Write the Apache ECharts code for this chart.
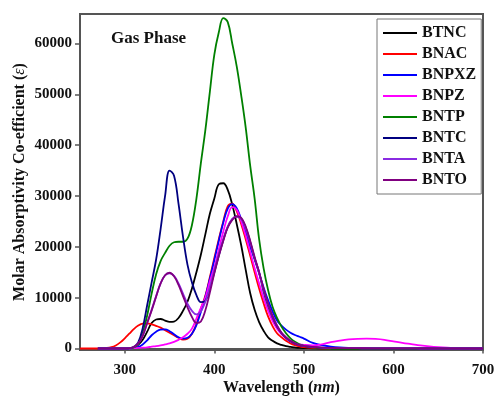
<!DOCTYPE html>
<html>
<head>
<meta charset="utf-8">
<script src="https://cdn.jsdelivr.net/npm/echarts@6/dist/echarts.min.js"></script>
<style>
  html, body { margin: 0; padding: 0; background: #fff; }
  #chart { width: 495px; height: 396px; }
</style>
</head>
<body>
<div id="chart"></div>
<script>
// wavelength grid (nm)
const wl = [
  250, 260, 270,
  280, 285, 290, 295,
  300, 305, 310, 315, 320, 325, 330, 335, 340, 345,
  350, 355, 360, 365, 370, 375, 380, 385, 390, 395,
  400, 405, 410, 415, 420, 425, 430, 435, 440, 445,
  450, 455, 460, 465, 470, 475, 480, 485, 490, 495,
  500, 510, 520, 530, 540, 550, 560, 570, 580, 590,
  600, 610, 620, 630, 640, 650, 660, 670, 680, 690, 700
];

const names = ["BTNC", "BNAC", "BNPXZ", "BNPZ", "BNTP", "BNTC", "BNTA", "BNTO"];
const colors = ["#000000", "#ff0000", "#0000ff", "#ff00ff", "#008000", "#000080", "#8a2be2", "#800080"];

const btnc = [
  null, null, 0,
  0, 0, 0, 0,
  0, 50, 200, 700, 1700, 3300, 5000, 5700, 5800, 5500,
  5250, 5300, 6000, 7400, 9200, 11800, 15000, 18500, 22500, 26500,
  29500, 32300, 32500, 31200, 28300, 24500, 20300, 15500, 10900, 7600,
  5200, 3500, 2200, 1500, 1000, 700, 450, 300, 200, 120,
  80, 30, 0, 0, 0, 0, 0, 0, 0, 0,
  0, 0, 0, 0, 0, 0, 0, 0, 0, 0, 0
];
const bnac = [
  0, 0, 0,
  100, 250, 600, 1200,
  2000, 2900, 3800, 4500, 4900, 4950, 4750, 4450, 4100, 3600,
  3100, 2600, 2100, 1750, 1900, 2900, 4800, 7800, 10400, 14000,
  17800, 21500, 25000, 28000, 28500, 27000, 24500, 21500, 18300, 15000,
  11800, 8900, 6300, 4400, 3000, 2200, 1500, 1000, 650, 400,
  250, 100, 30, 0, null, null, null, null, null, null,
  null, null, null, null, null, null, null, null, null, null, null
];
const bnpxz = [
  null, null, 0,
  0, 0, 0, 0,
  0, 30, 100, 300, 800, 1600, 2600, 3300, 3700, 3750,
  3400, 2800, 2200, 1950, 2100, 2900, 4600, 7200, 10200, 13700,
  17400, 21200, 24800, 27500, 28400, 27600, 25400, 22800, 20000, 17500,
  14800, 12000, 9500, 7300, 5500, 4500, 3700, 3100, 2650, 2300,
  1950, 1100, 650, 380, 200, 100, 50, null, null, null,
  null, null, null, null, null, null, null, null, null, null, null
];
const bnpz = [
  null, null, 0,
  0, 0, 0, 0,
  0, 20, 50, 100, 150, 220, 350, 450, 600, 800,
  1000, 1300, 1700, 2200, 2900, 3900, 5900, 8000, 10000, 13200,
  16000, 19500, 23000, 26000, 27800, 27300, 25000, 22200, 19000, 15800,
  12800, 9900, 7400, 5400, 3900, 2800, 2000, 1400, 1000, 800,
  700, 620, 800, 1250, 1550, 1780, 1900, 1930, 1870, 1700,
  1400, 1100, 850, 600, 400, 250, 150, 90, 50, 20, 0
];
const bntp = [
  null, null, 0,
  0, 0, 0, 0,
  0, 50, 200, 900, 3000, 6500, 10800, 14600, 17200, 18800,
  20200, 20900, 21000, 21000, 21600, 24300, 29500, 36500, 43000, 50500,
  57800, 62200, 65000, 64200, 60000, 55500, 49800, 43500, 36000, 29500,
  21500, 15800, 11500, 8200, 6000, 4300, 3000, 2000, 1300, 800,
  500, 200, 80, 0, 0, 0, 0, 0, 0, 0,
  0, 0, 0, 0, 0, 0, 0, 0, 0, 0, 0
];
const bntc = [
  null, null, 0,
  0, 0, 0, 0,
  0, 80, 300, 1200, 4000, 8500, 13000, 17500, 23500, 30000,
  35000, 34000, 28500, 22000, 16500, 13000, 10500, 9100, 9400, 11800,
  15000, 18300, 21300, 23900, 25400, 26000, 25600, 23800, 21000, 17700,
  15000, 11200, 8400, 6100, 4300, 3000, 2100, 1400, 950, 650,
  450, 250, 150, 100, 80, 60, 50, 40, 30, 20,
  15, 10, 5, 0, 0, 0, 0, 0, 0, 0, 0
];
const bnta = [
  null, null, 0,
  0, 0, 0, 0,
  0, 50, 300, 1000, 2500, 5000, 7600, 10300, 12800, 14400,
  14800, 14300, 12800, 10800, 8800, 7400, 6700, 7300, 9200, 12000,
  15400, 18600, 21500, 24000, 25500, 26000, 25500, 23600, 20800, 17800,
  14800, 11600, 8700, 6300, 4500, 3100, 2200, 1500, 1000, 700,
  500, 300, 180, 120, 80, 60, 50, 40, 30, 20,
  15, 10, 5, 0, 0, 0, 0, 0, 0, 0, 0
];
const bnto = [
  null, null, 0,
  0, 0, 0, 0,
  0, 50, 300, 1000, 2500, 5000, 7500, 10200, 12800, 14400,
  14900, 14200, 12500, 10300, 8100, 6200, 5000, 5300, 7500, 11000,
  14800, 18200, 21200, 23800, 25300, 26000, 25700, 24000, 21200, 18000,
  15000, 11800, 8800, 6400, 4500, 3100, 2200, 1500, 1000, 700,
  500, 300, 180, 120, 80, 60, 50, 40, 30, 20,
  15, 10, 5, 0, 0, 0, 0, 0, 0, 0, 0
];

const xTicks = [300, 400, 500, 600, 700];
const yTicks = [0, 10000, 20000, 30000, 40000, 50000, 60000];

const allData = [btnc, bnac, bnpxz, bnpz, bntp, bntc, bnta, bnto];

const font = "'Times New Roman', 'Liberation Serif', serif";
const axisColor = "#555";

const chart = echarts.init(document.getElementById("chart"));

const series = names.map((name, i) => ({
  name,
  type: "line",
  symbol: "none",
  smooth: 0.4,
  color: colors[i],
  lineStyle: { width: 1.8, color: colors[i] },
  data: wl.map((x, k) => [x, allData[i][k]]),
}));

const option = {
  animation: false,
  backgroundColor: "#fff",
  grid: {
    left: 80, right: 12, top: 14, bottom: 46,
    outerBoundsMode: "none",
    containLabel: false,
    show: true, borderColor: axisColor, borderWidth: 2,
  },
  graphic: [{
    type: "text",
    left: 111, top: 30,
    style: {
      text: "Gas Phase",
      font: "bold 17px " + font,
      fill: "#111",
    },
  }],
  legend: {
    orient: "vertical",
    left: 377, top: 19,
    padding: [6, 5, 6, 6],
    icon: "rect",
    itemWidth: 34, itemHeight: 2, itemGap: 5,
    borderColor: "#777", borderWidth: 1,
    backgroundColor: "#fff",
    textStyle: { fontFamily: font, fontWeight: "bold", fontSize: 16, color: "#111" },
    data: names,
  },
  xAxis: {
    type: "value",
    min: 250, max: 700,
    name: "{b|Wavelength (}{i|nm}{b|)}",
    nameLocation: "middle",
    nameGap: 30,
    nameMoveOverlap: false,
    nameTextStyle: {
      rich: {
        b: { fontFamily: font, fontWeight: "bold", fontSize: 16, color: "#111" },
        i: { fontFamily: font, fontWeight: "bold", fontStyle: "italic", fontSize: 16, color: "#111" },
      },
    },
    axisLine: { show: true, lineStyle: { color: axisColor, width: 2 } },
    axisTick: { show: true, inside: false, length: 5, customValues: xTicks, lineStyle: { color: axisColor, width: 1.5 } },
    axisLabel: {
      customValues: xTicks, margin: 13,
      fontFamily: font, fontWeight: "bold", fontSize: 15, color: "#111",
    },
    splitLine: { show: false },
  },
  yAxis: {
    type: "value",
    min: -300, max: 65800,
    name: "{b|Molar Absorptivity Co-efficient (}{i|ε}{b|)}",
    nameLocation: "middle",
    nameGap: 52,
    nameMoveOverlap: false,
    nameTextStyle: {
      rich: {
        b: { fontFamily: font, fontWeight: "bold", fontSize: 16, color: "#111" },
        i: { fontFamily: font, fontStyle: "italic", fontSize: 16, color: "#111" },
      },
    },
    axisLine: { show: true, lineStyle: { color: axisColor, width: 2 } },
    axisTick: { show: true, inside: false, length: 5, customValues: yTicks, lineStyle: { color: axisColor, width: 1.5 } },
    axisLabel: {
      customValues: yTicks, margin: 8,
      formatter: (v) => String(v),
      fontFamily: font, fontWeight: "bold", fontSize: 15, color: "#111",
    },
    splitLine: { show: false },
  },
  series,
};

chart.setOption(option);
</script>
</body>
</html>
